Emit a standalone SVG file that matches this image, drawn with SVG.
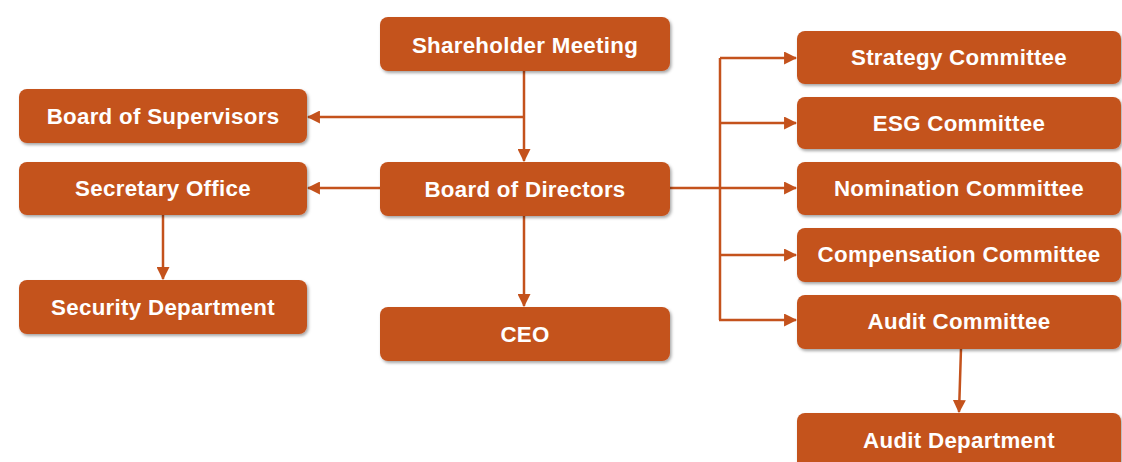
<svg xmlns="http://www.w3.org/2000/svg" width="1122" height="462" viewBox="0 0 1122 462">
<style>
.box{fill:#C4521C;filter:url(#sh)}
.lbl{font-family:"Liberation Sans",Arial,sans-serif;font-weight:bold;font-size:22.3px;fill:#ffffff;text-anchor:middle;letter-spacing:0.3px}
.ln{stroke:#C4521C;stroke-width:2.5;fill:none}
.arr{marker-end:url(#ah)}
</style>
<defs>
<filter id="sh" x="-10%" y="-20%" width="120%" height="150%">
<feDropShadow dx="1.5" dy="2" stdDeviation="1.8" flood-color="#000" flood-opacity="0.35"/>
</filter>
<marker id="ah" viewBox="0 0 12 12" refX="11" refY="6" markerWidth="13" markerHeight="13" markerUnits="userSpaceOnUse" orient="auto">
<path d="M0,0 L12,6 L0,12 Z" fill="#C4521C"/>
</marker>
</defs>
<rect width="1122" height="462" fill="#ffffff"/>
<g id="connectors">
<line class="ln arr" x1="524" y1="71" x2="524" y2="161"/>
<line class="ln arr" x1="524" y1="117" x2="308" y2="117"/>
<line class="ln arr" x1="380" y1="188" x2="308" y2="188"/>
<line class="ln arr" x1="163" y1="215" x2="163" y2="279"/>
<line class="ln arr" x1="524" y1="216" x2="524" y2="306"/>
<line class="ln arr" x1="670" y1="188" x2="796" y2="188"/>
<polyline class="ln" points="720,188 720,58"/>
<polyline class="ln" points="720,188 720,320"/>
<line class="ln arr" x1="720" y1="58" x2="796" y2="58"/>
<line class="ln arr" x1="720" y1="123" x2="796" y2="123"/>
<line class="ln arr" x1="720" y1="255" x2="796" y2="255"/>
<line class="ln arr" x1="719" y1="320" x2="796" y2="320"/>
<line class="ln arr" x1="961" y1="349" x2="959" y2="412"/>
</g>
<g id="shareholder"><rect class="box" x="380" y="17" width="290" height="54" rx="8"/><text class="lbl" x="525" y="52.5">Shareholder Meeting</text></g>
<g id="directors"><rect class="box" x="380" y="162" width="290" height="54" rx="8"/><text class="lbl" x="525" y="197">Board of Directors</text></g>
<g id="ceo"><rect class="box" x="380" y="307" width="290" height="54" rx="8"/><text class="lbl" x="525" y="342">CEO</text></g>
<g id="supervisors"><rect class="box" x="19" y="89" width="288" height="54" rx="8"/><text class="lbl" x="163" y="124">Board of Supervisors</text></g>
<g id="secretary"><rect class="box" x="19" y="162" width="288" height="53" rx="8"/><text class="lbl" x="163" y="196">Secretary Office</text></g>
<g id="security"><rect class="box" x="19" y="280" width="288" height="54" rx="8"/><text class="lbl" x="163" y="315">Security Department</text></g>
<g id="strategy"><rect class="box" x="797" y="31" width="324" height="53" rx="8"/><text class="lbl" x="959" y="65">Strategy Committee</text></g>
<g id="esg"><rect class="box" x="797" y="97" width="324" height="52" rx="8"/><text class="lbl" x="959" y="131">ESG Committee</text></g>
<g id="nomination"><rect class="box" x="797" y="162" width="324" height="53" rx="8"/><text class="lbl" x="959" y="196">Nomination Committee</text></g>
<g id="compensation"><rect class="box" x="797" y="228" width="324" height="54" rx="8"/><text class="lbl" x="959" y="262">Compensation Committee</text></g>
<g id="audit"><rect class="box" x="797" y="295" width="324" height="54" rx="8"/><text class="lbl" x="959" y="329">Audit Committee</text></g>
<g id="auditdept"><rect class="box" x="797" y="413" width="324" height="60" rx="8"/><text class="lbl" x="959" y="448">Audit Department</text></g>
</svg>
